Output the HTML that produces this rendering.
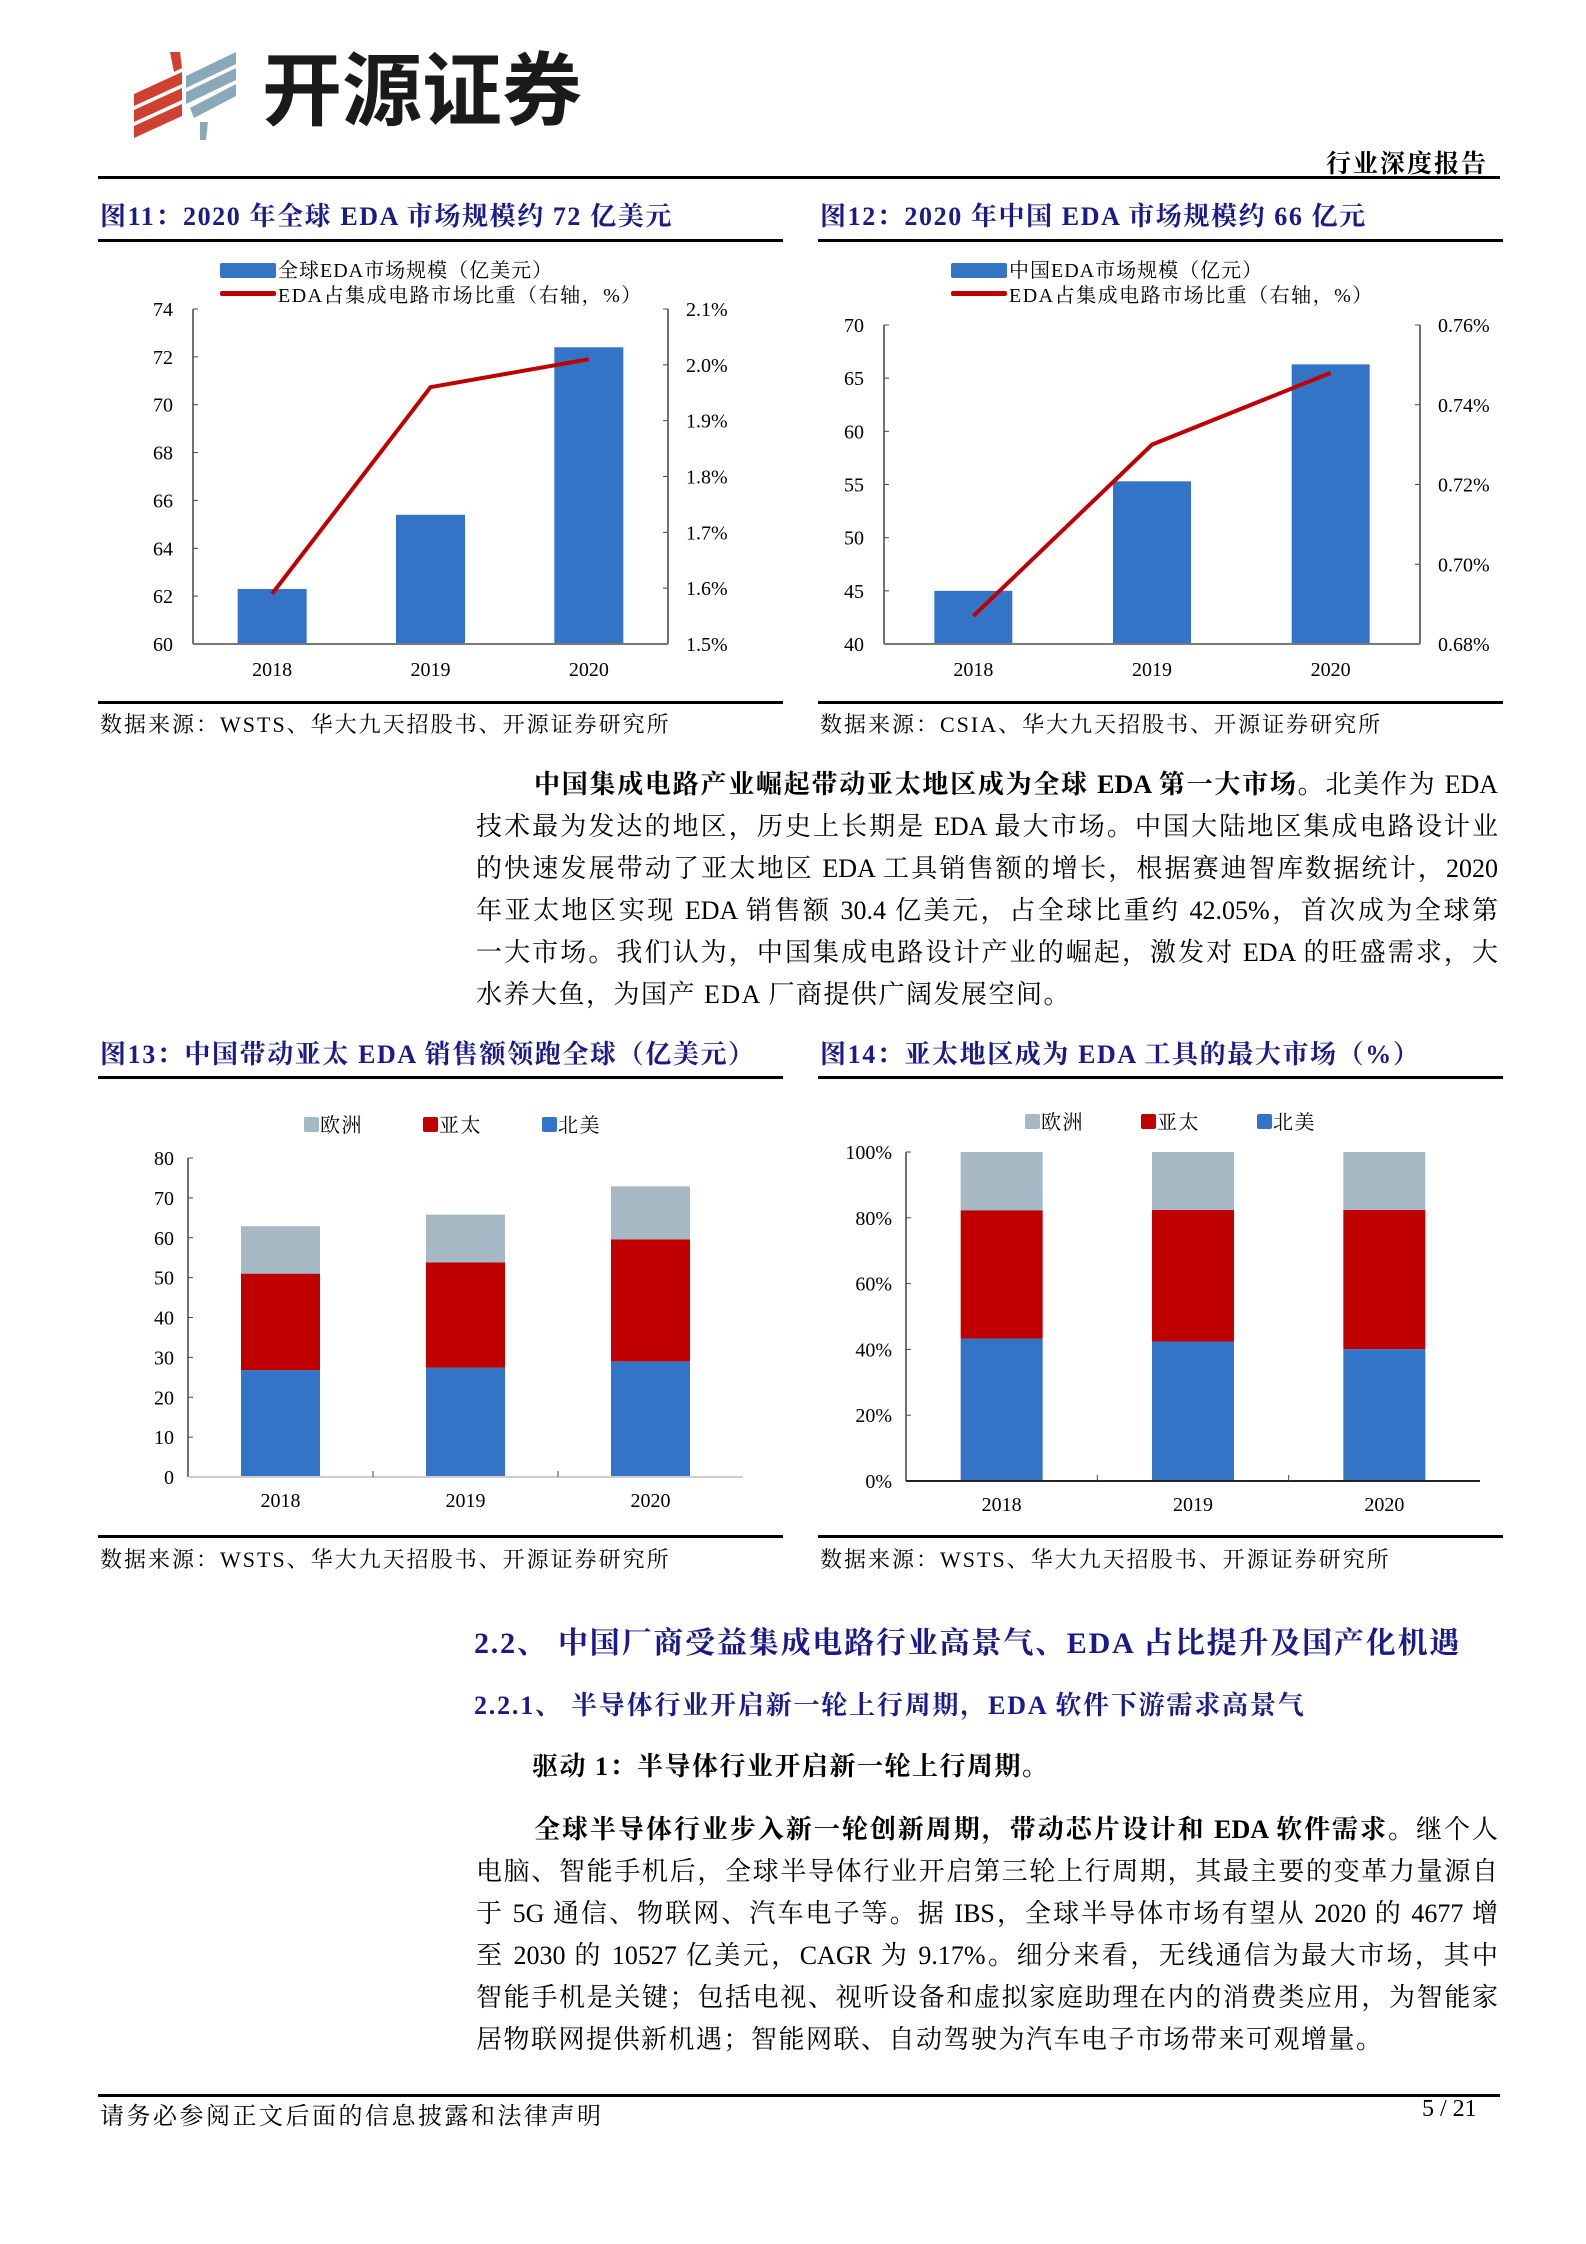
<!DOCTYPE html>
<html><head><meta charset="utf-8">
<style>
body{margin:0;background:#fff;}
#page{position:relative;width:1586px;height:2244px;overflow:hidden;background:#fff;font-family:"Liberation Serif","Noto Serif CJK SC",serif;color:#000;}
.abs{position:absolute;white-space:nowrap;}
.ftitle{position:absolute;font-size:26px;font-weight:bold;color:#1a1a8a;white-space:nowrap;letter-spacing:1.6px;}
.rule{position:absolute;height:3px;background:#000;}
.src{position:absolute;font-size:22px;white-space:nowrap;letter-spacing:2px;}
.pl{position:absolute;left:476px;width:1022px;font-size:26px;text-align:justify;text-align-last:justify;white-space:nowrap;}
.pl.last{text-align-last:left;letter-spacing:1.5px;}
svg text{font-family:"Liberation Serif","Noto Serif CJK SC",serif;}
</style></head>
<body>
<div id="page">
<svg class="abs" style="left:130px;top:48px" width="112" height="96">
<polygon points="4,62 52,40 52,52 4,74" fill="#d04030"/>
<polygon points="4,78 52,56 52,68 4,90" fill="#d04030"/>
<polygon points="4,46 52,24 52,36 4,58" fill="#d04030"/>
<polygon points="40,4 50,4 52,20 44,24" fill="#d04030"/>
<polygon points="56,40 106,16 106,4 56,28" fill="#8aa9b8"/>
<polygon points="56,56 106,32 106,20 56,44" fill="#8aa9b8"/>
<polygon points="64,70 106,48 106,36 60,60" fill="#8aa9b8"/>
<polygon points="70,74 78,74 76,92 70,92" fill="#8aa9b8"/>
</svg>
<div class="abs" style="left:262px;top:44px;font-family:'Liberation Sans','Noto Sans CJK SC',sans-serif;font-weight:bold;font-size:80px;line-height:96px;color:#1a1a1a;">开源证券</div>
<div class="abs" style="left:1326px;top:144px;font-size:25px;font-weight:bold;letter-spacing:2px;">行业深度报告</div>
<div class="rule" style="left:98px;width:1402px;top:176px;"></div>

<div class="ftitle" style="left:100px;top:196px;">图11：2020 年全球 EDA 市场规模约 72 亿美元</div>
<div class="rule" style="left:98px;width:685px;top:239px;"></div>
<div class="ftitle" style="left:820px;top:196px;">图12：2020 年中国 EDA 市场规模约 66 亿元</div>
<div class="rule" style="left:818px;width:685px;top:239px;"></div>

<svg id="c1" class="abs" style="left:0;top:0" width="1586" height="700"></svg>

<div class="rule" style="left:98px;width:685px;top:701px;"></div>
<div class="src" style="left:100px;top:708px;">数据来源：WSTS、华大九天招股书、开源证券研究所</div>
<div class="rule" style="left:818px;width:685px;top:701px;"></div>
<div class="src" style="left:820px;top:708px;">数据来源：CSIA、华大九天招股书、开源证券研究所</div>

<div>
<div class="pl" style="top:764px;left:534px;width:964px;"><b>中国集成电路产业崛起带动亚太地区成为全球 EDA 第一大市场</b>。北美作为 EDA</div>
<div class="pl" style="top:806px;">技术最为发达的地区，历史上长期是 EDA 最大市场。中国大陆地区集成电路设计业</div>
<div class="pl" style="top:848px;">的快速发展带动了亚太地区 EDA 工具销售额的增长，根据赛迪智库数据统计，2020</div>
<div class="pl" style="top:890px;">年亚太地区实现 EDA 销售额 30.4 亿美元，占全球比重约 42.05%，首次成为全球第</div>
<div class="pl" style="top:932px;">一大市场。我们认为，中国集成电路设计产业的崛起，激发对 EDA 的旺盛需求，大</div>
<div class="pl last" style="top:974px;">水养大鱼，为国产 EDA 厂商提供广阔发展空间。</div>
</div>

<div class="ftitle" style="left:100px;top:1034px;">图13：中国带动亚太 EDA 销售额领跑全球（亿美元）</div>
<div class="rule" style="left:98px;width:685px;top:1076px;"></div>
<div class="ftitle" style="left:820px;top:1034px;">图14：亚太地区成为 EDA 工具的最大市场（%）</div>
<div class="rule" style="left:818px;width:685px;top:1076px;"></div>

<svg id="c3" class="abs" style="left:0;top:0" width="1586" height="1530"></svg>

<div class="rule" style="left:98px;width:685px;top:1535px;"></div>
<div class="src" style="left:100px;top:1543px;">数据来源：WSTS、华大九天招股书、开源证券研究所</div>
<div class="rule" style="left:818px;width:685px;top:1535px;"></div>
<div class="src" style="left:820px;top:1543px;">数据来源：WSTS、华大九天招股书、开源证券研究所</div>

<div class="abs" style="left:474px;top:1618px;font-size:30px;font-weight:bold;color:#1a1a8a;letter-spacing:1.8px;">2.2、 中国厂商受益集成电路行业高景气、EDA 占比提升及国产化机遇</div>
<div class="abs" style="left:474px;top:1685px;font-size:26px;font-weight:bold;color:#1a1a8a;letter-spacing:1.8px;">2.2.1、 半导体行业开启新一轮上行周期，EDA 软件下游需求高景气</div>
<div class="abs" style="left:532px;top:1746px;font-size:26px;font-weight:bold;letter-spacing:1.5px;">驱动 1：半导体行业开启新一轮上行周期。</div>

<div>
<div class="pl" style="top:1809px;left:534px;width:964px;"><b>全球半导体行业步入新一轮创新周期，带动芯片设计和 EDA 软件需求</b>。继个人</div>
<div class="pl" style="top:1851px;">电脑、智能手机后，全球半导体行业开启第三轮上行周期，其最主要的变革力量源自</div>
<div class="pl" style="top:1893px;">于 5G 通信、物联网、汽车电子等。据 IBS，全球半导体市场有望从 2020 的 4677 增</div>
<div class="pl" style="top:1935px;">至 2030 的 10527 亿美元，CAGR 为 9.17%。细分来看，无线通信为最大市场，其中</div>
<div class="pl" style="top:1977px;">智能手机是关键；包括电视、视听设备和虚拟家庭助理在内的消费类应用，为智能家</div>
<div class="pl last" style="top:2019px;">居物联网提供新机遇；智能网联、自动驾驶为汽车电子市场带来可观增量。</div>
</div>

<div class="rule" style="left:98px;width:1402px;top:2094px;"></div>
<div class="abs" style="left:100px;top:2096px;font-size:24px;letter-spacing:2.5px;">请务必参阅正文后面的信息披露和法律声明</div>
<div class="abs" style="left:1422px;top:2096px;font-size:24px;">5 / 21</div>
</div>

<script>
const years = ['2018','2019','2020'];
const globalSize = [62.3, 65.4, 72.4];
const globalShare = [1.59, 1.96, 2.01];
const chinaSize = [45.0, 55.3, 66.3];
const chinaShare = [0.687, 0.730, 0.748];
const leftTicks1 = [60,62,64,66,68,70,72,74];
const rightTicks1 = [1.5,1.6,1.7,1.8,1.9,2.0,2.1];
const leftTicks2 = [40,45,50,55,60,65,70];
const rightTicks2 = [0.68,0.70,0.72,0.74,0.76];
const naSales = [26.8, 27.4, 29.0];
const apSales = [24.2, 26.4, 30.6];
const euSales = [11.9, 12.0, 13.3];
const salesTicks = [0,10,20,30,40,50,60,70,80];
const naPct = [43.3, 42.4, 40.1];
const apPct = [39.0, 40.0, 42.3];
const euPct = [17.7, 17.6, 17.6];
const pctTicks = [0,20,40,60,80,100];

const NS='http://www.w3.org/2000/svg';
const BLUE='#3374c6', RED='#c00000', GREY='#a5b8c3';
function mk(svg,tag,attrs,txt){const e=document.createElementNS(NS,tag);for(const k in attrs)e.setAttribute(k,attrs[k]);if(txt!==undefined)e.textContent=txt;svg.appendChild(e);return e;}
function lin(d0,d1,r0,r1){return v=>r0+(v-d0)/(d1-d0)*(r1-r0);}

function comboChart(svg,cfg){
  const y=lin(cfg.lmin,cfg.lmax,cfg.yb,cfg.yt), yr=lin(cfg.rmin,cfg.rmax,cfg.yb,cfg.yt);
  const step=(cfg.xr-cfg.xl)/years.length;
  const cx=i=>cfg.xl+step*(i+0.5);
  let a=mk(svg,'line',{x1:cfg.xl,y1:cfg.yt,x2:cfg.xl,y2:cfg.yb,stroke:'#444','stroke-width':1.5});
  
  
  a=mk(svg,'line',{x1:cfg.xr,y1:cfg.yt,x2:cfg.xr,y2:cfg.yb,stroke:'#444','stroke-width':1.5});
  
  
  cfg.lt.forEach(v=>{mk(svg,'line',{x1:cfg.xl,y1:y(v),x2:cfg.xl+5,y2:y(v),stroke:'#444'});
    const t=mk(svg,'text',{x:cfg.xl-20,y:y(v)+7,'text-anchor':'end','font-size':20},String(v));
    
    });
  cfg.rt.forEach(v=>{mk(svg,'line',{x1:cfg.xr-5,y1:yr(v),x2:cfg.xr,y2:yr(v),stroke:'#444'});
    const t=mk(svg,'text',{x:cfg.xr+18,y:yr(v)+7,'font-size':20},v.toFixed(cfg.rd)+'%');
    
    });
  cfg.bars.forEach((v,i)=>{const b=mk(svg,'rect',{x:cx(i)-cfg.bw/2,y:y(v),width:cfg.bw,height:cfg.yb-y(v),fill:BLUE});
    
    
    const t=mk(svg,'text',{x:cx(i),y:cfg.yb+32,'text-anchor':'middle','font-size':20},years[i]);
    
    });
  const xa=mk(svg,'line',{x1:cfg.xl,y1:cfg.yb,x2:cfg.xr,y2:cfg.yb,stroke:'#777','stroke-width':2});
  
  
  const pts=cfg.line.map((v,i)=>cx(i)+','+yr(v)).join(' ');
  const pl=mk(svg,'polyline',{points:pts,fill:'none',stroke:RED,'stroke-width':4});
  
  
  const lg=mk(svg,'g',{});
  
  
  mk(lg,'rect',{x:cfg.lx,y:263,width:56,height:15,fill:BLUE,rx:2});
  mk(lg,'text',{x:cfg.lx+58,y:277,'font-size':20,'letter-spacing':1},cfg.l1);
  mk(lg,'rect',{x:cfg.lx,y:291,width:56,height:5,fill:RED,rx:2});
  mk(lg,'text',{x:cfg.lx+58,y:302,'font-size':20,'letter-spacing':1.5},'EDA占集成电路市场比重（右轴，%）');
}
const c1=document.getElementById('c1');
comboChart(c1,{id:'fig11',xl:193,xr:668,yt:309,yb:644,lmin:60,lmax:74,rmin:1.5,rmax:2.1,lt:leftTicks1,rt:rightTicks1,rd:1,bars:globalSize,line:globalShare,bw:69,lx:220,l1:'全球EDA市场规模（亿美元）'});
comboChart(c1,{id:'fig12',xl:884,xr:1420,yt:325,yb:644,lmin:40,lmax:70,rmin:0.68,rmax:0.76,lt:leftTicks2,rt:rightTicks2,rd:2,bars:chinaSize,line:chinaShare,bw:78,lx:951,l1:'中国EDA市场规模（亿元）'});

function stackChart(svg,cfg){
  const y=lin(cfg.min,cfg.max,cfg.yb,cfg.yt);
  const step=(cfg.xr-cfg.xl)/years.length, cx=i=>cfg.xl+step*(i+0.5);
  let a=mk(svg,'line',{x1:cfg.xl,y1:cfg.yt,x2:cfg.xl,y2:cfg.yb,stroke:'#444','stroke-width':1.5});
  
  
  cfg.ticks.forEach(v=>{mk(svg,'line',{x1:cfg.xl,y1:y(v),x2:cfg.xl+5,y2:y(v),stroke:'#444'});
    const t=mk(svg,'text',{x:cfg.xl-14,y:y(v)+7,'text-anchor':'end','font-size':20},v+cfg.suf);
    
    });
  years.forEach((yr,i)=>{let base=0;
    [[cfg.na,BLUE,'na'],[cfg.ap,RED,'ap'],[cfg.eu,GREY,'eu']].forEach(([arr,col,nm])=>{
      const v=arr[i];const r=mk(svg,'rect',{x:cx(i)-cfg.bw/2,y:y(base+v),width:cfg.bw,height:y(base)-y(base+v),fill:col});
      
      
      base+=v;});
    const t=mk(svg,'text',{x:cx(i),y:cfg.yb+30,'text-anchor':'middle','font-size':20},yr);
    
    });
  const xa=mk(svg,'line',{x1:cfg.xl,y1:cfg.yb,x2:cfg.xr,y2:cfg.yb,stroke:cfg.axc,'stroke-width':2});
  
  
  [1,2].forEach(k=>mk(svg,'line',{x1:cfg.xl+step*k,y1:cfg.yb,x2:cfg.xl+step*k,y2:cfg.yb-6,stroke:'#444'}));
  const lg=mk(svg,'g',{});
  
  
  [[GREY,'欧洲'],[RED,'亚太'],[BLUE,'北美']].forEach(([c,t],k)=>{
    mk(lg,'rect',{x:cfg.lx[k],y:cfg.ly-8,width:15,height:15,fill:c,rx:2});
    mk(lg,'text',{x:cfg.lx[k]+16,y:cfg.ly+7,'font-size':20,'letter-spacing':1.5},t);});
}
const c3=document.getElementById('c3');
stackChart(c3,{id:'fig13',xl:188,xr:743,yt:1158,yb:1477,min:0,max:80,ticks:salesTicks,suf:'',na:naSales,ap:apSales,eu:euSales,bw:79,axc:'#ccc',lx:[304,423,542],ly:1125});
stackChart(c3,{id:'fig14',xl:906,xr:1480,yt:1152,yb:1481,min:0,max:100,ticks:pctTicks,suf:'%',na:naPct,ap:apPct,eu:euPct,bw:82,axc:'#222',lx:[1025,1141,1257],ly:1122});
</script>
</body></html>
